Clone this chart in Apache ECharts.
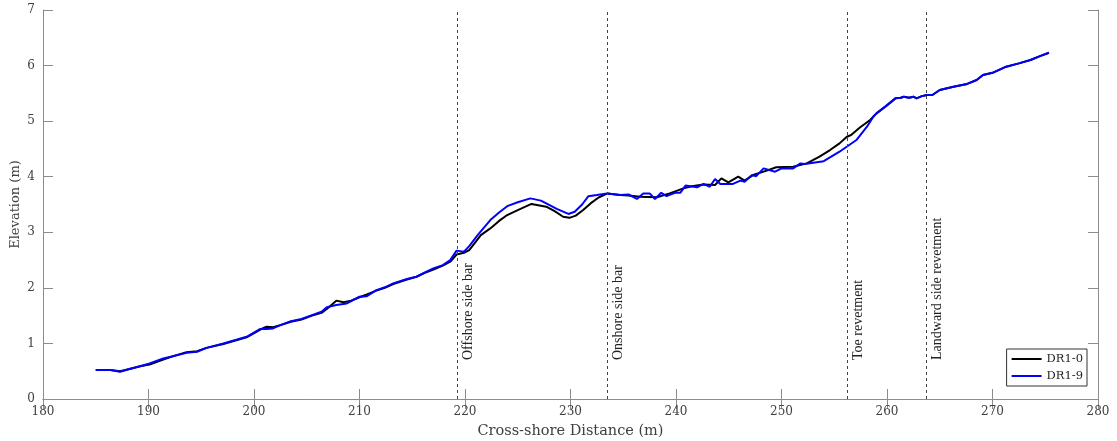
<!DOCTYPE html>
<html>
<head>
<meta charset="utf-8">
<script src="https://cdn.jsdelivr.net/npm/echarts@6/dist/echarts.min.js"></script>
<style>
  html, body { margin: 0; padding: 0; background: #fff; }
  #profile-chart { width: 1117px; height: 441px; }
</style>
</head>
<body>
<div id="profile-chart"></div>
<script>
// profile data, [distance (m), elevation (m)]
var dr10 = [
  [185,0.52],[186.4,0.52],[187.3,0.50],[188.2,0.54],[189.2,0.59],[190.1,0.62],[191.4,0.71],[192.5,0.78],
  [193.6,0.84],[194.6,0.86],[195.5,0.92],[197.1,0.99],[198.4,1.06],[199.3,1.11],[200.6,1.25],[201.2,1.30],
  [201.8,1.29],[202.5,1.33],[203.5,1.39],[204.5,1.43],[205.5,1.50],[206.4,1.55],[206.9,1.62],[207.8,1.77],
  [208.5,1.74],[209.2,1.77],[210,1.83],[210.7,1.88],[211.6,1.95],[212.4,2.0],[213.2,2.07],[214.5,2.15],
  [215.4,2.2],[216.2,2.27],[217,2.33],[217.9,2.40],[218.6,2.47],[219.2,2.6],[219.9,2.63],[220.4,2.68],
  [220.9,2.8],[221.5,2.95],[222.4,3.07],[223.2,3.2],[224,3.31],[225,3.4],[226.3,3.51],[227.7,3.46],
  [228.5,3.38],[229.3,3.28],[229.9,3.26],[230.5,3.30],[231.2,3.40],[231.9,3.52],[232.7,3.63],[233.5,3.70],
  [234.7,3.67],[235.5,3.66],[236.6,3.64],[238.2,3.63],[239.4,3.70],[240.7,3.79],[241.5,3.83],[242.6,3.86],
  [243.7,3.85],[244.3,3.97],[244.96,3.90],[245.9,4.0],[246.5,3.93],[247.3,4.03],[248.6,4.11],[249.5,4.17],
  [251.1,4.18],[252.4,4.24],[253.6,4.36],[254.6,4.48],[255.5,4.60],[256.2,4.72],[256.6,4.75],[257.4,4.88],
  [258.4,5.02],[259,5.14],[259.9,5.27],[260.8,5.41],[261.3,5.42],[261.6,5.44],[262.1,5.42],[262.5,5.44],
  [262.8,5.41],[263.3,5.45],[263.8,5.47],[264.3,5.47],[265,5.56],[266.3,5.62],[267.6,5.67],[268.5,5.74],
  [269.1,5.83],[270,5.87],[271.3,5.98],[272.5,6.04],[273.6,6.10],[274.5,6.17],[275.35,6.23]
];

var dr19 = [
  [185,0.52],[186.4,0.52],[187.3,0.49],[188.2,0.54],[189.2,0.59],[190.1,0.64],[191.4,0.73],[192.5,0.78],
  [193.6,0.83],[194.6,0.85],[195.5,0.92],[197.1,1.0],[198.4,1.07],[199.3,1.12],[200.6,1.26],[201.2,1.26],
  [201.8,1.27],[202.5,1.33],[203.5,1.40],[204.5,1.44],[205.5,1.51],[206.4,1.57],[206.9,1.65],[207.8,1.69],
  [208.8,1.72],[210,1.84],[210.7,1.85],[211.6,1.96],[212.4,2.01],[213.2,2.08],[214.5,2.16],[215.4,2.2],
  [216.2,2.28],[217,2.35],[217.9,2.41],[218.6,2.50],[219.2,2.67],[219.9,2.65],[220.4,2.75],[221.2,2.95],
  [222.4,3.22],[223.2,3.35],[224,3.47],[225,3.54],[226.2,3.61],[227.2,3.57],[227.7,3.52],[228.7,3.42],
  [229.8,3.33],[230.4,3.37],[231.1,3.50],[231.7,3.65],[232.5,3.67],[233.5,3.70],[234.7,3.67],[235.5,3.68],
  [236.3,3.60],[236.9,3.70],[237.5,3.70],[238.0,3.60],[238.6,3.71],[239.1,3.65],[239.9,3.71],[240.4,3.71],
  [240.9,3.84],[242.0,3.81],[242.6,3.87],[243.2,3.82],[243.7,3.96],[244.2,3.87],[245.4,3.87],[246.1,3.93],
  [246.5,3.91],[247.2,4.03],[247.6,4.01],[248.3,4.15],[249.4,4.09],[250.0,4.15],[251.1,4.15],[251.8,4.24],
  [252.2,4.23],[254.0,4.28],[255.5,4.45],[257.1,4.66],[258.1,4.90],[258.7,5.08],[259,5.14],[259.9,5.27],
  [260.8,5.41],[261.3,5.42],[261.6,5.44],[262.1,5.42],[262.5,5.44],[262.8,5.41],[263.3,5.45],[263.8,5.47],
  [264.3,5.47],[265,5.56],[266.3,5.62],[267.6,5.67],[268.5,5.74],[269.1,5.83],[270,5.87],[271.3,5.98],
  [272.5,6.04],[273.6,6.10],[274.5,6.17],[275.35,6.23]
];

// feature positions along the profile
var featureNames = ['Offshore side bar', 'Onshore side bar', 'Toe revetment', 'Landward side revetment'];
var featureX = [219.3, 233.5, 256.2, 263.7];

var serif = 'DejaVu Serif';
var axisGray = '#8c8c8c';
var textGray = '#404040';

var dom = document.getElementById("profile-chart");
var myChart = echarts.init(dom);
var option = null;

var featureLines = featureX.map(function (x, i) {
    return {
        xAxis: x,
        label: { formatter: featureNames[i] }
    };
});

option = {
    animation: false,
    textStyle: { fontFamily: serif },
    grid: {
        left: 43,
        top: 10,
        width: 1055,
        height: 389,
        outerBoundsMode: 'none'
    },
    legend: {
        orient: 'vertical',
        right: 30,
        bottom: 55,
        itemWidth: 30,
        itemHeight: 2,
        itemGap: 5,
        padding: [4, 4, 4, 4],
        borderColor: '#333',
        borderWidth: 1,
        backgroundColor: '#fff',
        textStyle: { fontFamily: serif, fontSize: 11.5, color: '#222' },
        data: ['DR1-0', 'DR1-9']
    },
    xAxis: [
        {
            type: 'value',
            min: 180,
            max: 280,
            interval: 10,
            name: 'Cross-shore Distance (m)',
            nameLocation: 'middle',
            nameGap: 25,
            nameMoveOverlap: false,
            nameTextStyle: { fontFamily: serif, fontSize: 14.5, color: textGray },
            axisLine: { lineStyle: { color: axisGray } },
            axisTick: { inside: true, length: 10, lineStyle: { color: axisGray } },
            axisLabel: { fontFamily: serif, fontSize: 12, color: textGray, margin: 7 },
            splitLine: { show: false }
        },
        {
            type: 'value',
            position: 'top',
            min: 180,
            max: 280,
            interval: 10,
            axisLine: { show: true, lineStyle: { color: axisGray } },
            axisTick: { inside: true, length: 10, lineStyle: { color: axisGray } },
            axisLabel: { show: false },
            splitLine: { show: false }
        }
    ],
    yAxis: [
        {
            type: 'value',
            min: 0,
            max: 7,
            interval: 1,
            name: 'Elevation (m)',
            nameLocation: 'middle',
            nameGap: 21,
            nameMoveOverlap: false,
            nameTextStyle: { fontFamily: serif, fontSize: 13, color: textGray },
            axisLine: { show: true, lineStyle: { color: axisGray } },
            axisTick: { show: true, inside: true, length: 10, lineStyle: { color: axisGray } },
            axisLabel: { fontFamily: serif, fontSize: 12, color: textGray, margin: 8 },
            splitLine: { show: false }
        },
        {
            type: 'value',
            position: 'right',
            min: 0,
            max: 7,
            interval: 1,
            axisLine: { show: true, lineStyle: { color: axisGray } },
            axisTick: { show: true, inside: true, length: 10, lineStyle: { color: axisGray } },
            axisLabel: { show: false },
            splitLine: { show: false }
        }
    ],
    series: [
        {
            name: 'DR1-0',
            type: 'line',
            data: dr10,
            showSymbol: false,
            symbol: 'none',
            lineStyle: { color: '#000', width: 2 },
            itemStyle: { color: '#000' },
            markLine: {
                silent: true,
                symbol: ['none', 'none'],
                lineStyle: { color: '#444', width: 1, type: [3, 3] },
                label: {
                    show: true,
                    position: 'insideStartBottom',
                    distance: [39, 4],
                    fontFamily: 'Liberation Serif',
                    fontSize: 14,
                    color: '#222'
                },
                data: featureLines
            }
        },
        {
            name: 'DR1-9',
            type: 'line',
            data: dr19,
            showSymbol: false,
            symbol: 'none',
            lineStyle: { color: '#0000ff', width: 2 },
            itemStyle: { color: '#0000ff' }
        }
    ]
};

if (option && typeof option === "object") {
    myChart.setOption(option, true);
}
</script>
</body>
</html>
